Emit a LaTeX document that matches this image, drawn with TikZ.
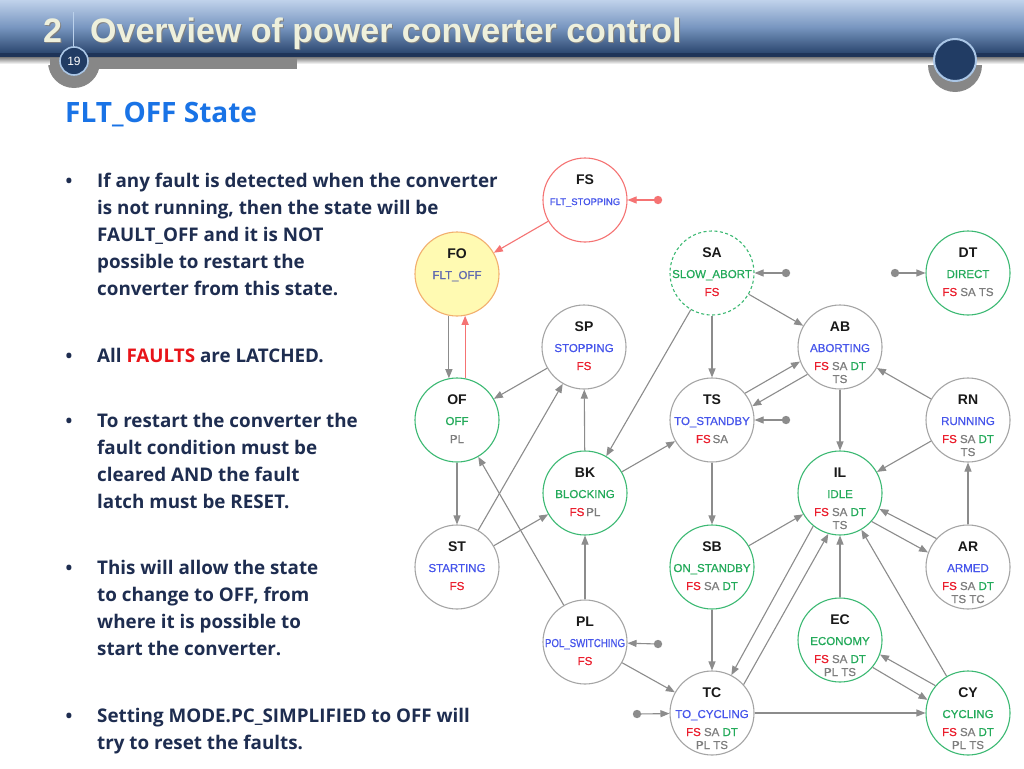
\documentclass[tikz,border=0pt]{standalone}
\usepackage{fontspec}
\usetikzlibrary{arrows.meta,calc}
\newfontfamily\arialf{Liberation Sans}
\newfontfamily\arialm[FakeBold=0.7]{Liberation Sans}
\newfontfamily\osf{Open Sans}
\definecolor{cblue}{RGB}{70,85,235}
\definecolor{cblue2}{RGB}{95,105,175}
\definecolor{cgreen}{RGB}{35,170,90}
\definecolor{cred}{RGB}{235,30,45}
\definecolor{cgray}{RGB}{125,125,125}
\definecolor{bgray}{RGB}{165,165,165}
\definecolor{bgreen}{RGB}{60,185,115}
\definecolor{egray}{RGB}{140,140,140}
\definecolor{ered}{RGB}{245,115,115}
\definecolor{fofill}{RGB}{255,250,178}
\definecolor{fodraw}{RGB}{242,175,110}
\definecolor{bodytxt}{RGB}{30,45,80}
\definecolor{ttlblue}{RGB}{25,115,230}
\definecolor{faultred}{RGB}{232,20,25}
\definecolor{hdtop}{RGB}{192,210,235}
\definecolor{hdmid}{RGB}{120,150,192}
\definecolor{hdbot}{RGB}{40,68,108}
\definecolor{hdstrip}{RGB}{30,52,88}
\definecolor{shgray}{RGB}{135,135,135}
\definecolor{navy}{RGB}{33,60,100}
\definecolor{rimblue}{RGB}{170,198,230}
\definecolor{cream}{RGB}{238,240,220}
\newcommand\cR[1]{\textcolor{cred}{#1}}
\newcommand\cG[1]{\textcolor{cgreen}{#1}}
\newcommand\cY[1]{\textcolor{cgray}{#1}}
\newcommand\cB[1]{\textcolor{cblue}{#1}}
\newcommand\stt[7]{%
  \node[stc,#3] (#1) at (#2) {};
  \node[abbr] (#1-a) at ([yshift=16pt]#1.center) {#4};
  \node[nm] (#1-n) at ([yshift=-5pt]#1.center) {#5};
  \if\relax\detokenize{#6}\relax\else\node[fl] (#1-f) at ([yshift=-23pt]#1.center) {#6};\fi
  \if\relax\detokenize{#7}\relax\else\node[fl] (#1-g) at ([yshift=-36pt]#1.center) {#7};\fi
}
\begin{document}
\begin{tikzpicture}[x=1pt,y=-1pt,
  stc/.style={circle,minimum size=84pt,inner sep=0pt,line width=1.1pt,fill=white},
  sgray/.style={draw=bgray},
  sgreen/.style={draw=bgreen},
  sred/.style={draw=ered},
  sfo/.style={draw=fodraw,fill=fofill},
  sdash/.style={draw=bgreen,dash pattern=on 3pt off 2.5pt},
  abbr/.style={anchor=base,inner sep=0pt,font=\arialf\bfseries\fontsize{14}{14}\selectfont,text=black!90},
  nm/.style={anchor=base,inner sep=0pt,font=\arialm\fontsize{11.5}{12}\selectfont},
  fl/.style={anchor=base,inner sep=0pt,font=\arialm\fontsize{11.5}{12}\selectfont},
  ed/.style={draw=egray,line width=1.1pt,-{Triangle[length=9pt,width=7pt]}},
  edr/.style={draw=ered,line width=1.1pt,-{Triangle[length=9pt,width=7pt]}},
  dotg/.style={fill=egray},
  dotr/.style={fill=ered},
  body/.style={anchor=base west,inner sep=0pt,align=left,text=bodytxt,
     font=\osf\bfseries\fontsize{18.8}{27}\selectfont},
  bul/.style={anchor=base,inner sep=0pt,text=bodytxt,font=\osf\bfseries\fontsize{18}{27}\selectfont}
]
\useasboundingbox (0,0) rectangle (1024,768);
\fill[white] (0,0) rectangle (1024,768);
% header
\fill[shgray] (74,62) circle (26pt);
\fill[shgray] (955,65) circle (27pt);
\shade[top color=hdtop,bottom color=hdbot,middle color=hdmid] (0,0) rectangle (1024,54);
\fill[hdstrip] (0,53) rectangle (1024,58);
\shade[top color=black!45,bottom color=white] (0,58) rectangle (1024,64);
\fill[shgray] (50,58) rectangle (297,69);
\draw[rimblue!80,line width=0.8pt] (73,12) -- (73,47);
\node[anchor=base west,inner sep=0pt,text=black!50,font=\arialf\bfseries\fontsize{34}{34}\selectfont] (tsh2) at (44,44) {2};
\node[anchor=base west,inner sep=0pt,text=cream,font=\arialf\bfseries\fontsize{34}{34}\selectfont] (t2) at (43,43) {2};
\node[anchor=base west,inner sep=0pt,text=black!50,font=\arialf\bfseries\fontsize{34}{34}\selectfont] (tsh) at (91,44) {Overview of power converter control};
\node[anchor=base west,inner sep=0pt,text=cream,font=\arialf\bfseries\fontsize{34}{34}\selectfont] (title) at (90,43) {Overview of power converter control};
\filldraw[fill=navy,draw=rimblue,line width=1.6pt] (74,61) circle (14pt);
\node[text=white,inner sep=0pt,font=\arialf\fontsize{12}{12}\selectfont] (pg) at (74,61) {19};
\filldraw[fill=navy,draw=rimblue,line width=2pt] (955,60) circle (21pt);
% slide title
\node[anchor=base west,inner sep=0pt,text=ttlblue,font=\osf\bfseries\fontsize{28}{28}\selectfont] (sub) at (65,122) {FLT\_OFF State};
% bullets (base anchor = last line)
\node[bul] (b1d) at (69,187) {•};
\node[body] (b1) at (97,295) {If any fault is detected when the converter\\is not running, then the state will be\\FAULT\_OFF and it is NOT\\possible to restart the\\converter from this state.};
\node[bul] (b2d) at (69,362) {•};
\node[body] (b2) at (97,362) {All \textcolor{faultred}{FAULTS} are LATCHED.};
\node[bul] (b3d) at (69,427) {•};
\node[body] (b3) at (97,508) {To restart the converter the\\fault condition must be\\cleared AND the fault\\latch must be RESET.};
\node[bul] (b4d) at (69,574) {•};
\node[body] (b4) at (97,655) {This will allow the state\\to change to OFF, from\\where it is possible to\\start the converter.};
\node[bul] (b5d) at (69,722) {•};
\node[body] (b5) at (97,749) {Setting MODE.PC\_SIMPLIFIED to OFF will\\try to reset the faults.};
% states
\stt{FS}{585,200}{sred}{FS}{\fontsize{9.5}{10}\selectfont\cB{FLT\_STOPPING}}{}{}
\stt{FO}{457,274}{sfo}{FO}{\textcolor{cblue2}{FLT\_OFF}}{}{}
\stt{SA}{712,273}{sdash}{SA}{\cG{SLOW\_ABORT}}{\cR{FS}}{}
\stt{DT}{968,273}{sgreen}{DT}{\cG{DIRECT}}{\cR{FS} \cY{SA TS}}{}
\stt{SP}{584,347}{sgray}{SP}{\cB{STOPPING}}{\cR{FS}}{}
\stt{AB}{840,347}{sgray}{AB}{\cB{ABORTING}}{\cR{FS} \cY{SA} \cG{DT}}{\cY{TS}}
\stt{OF}{457,420}{sgreen}{OF}{\cG{OFF}}{\cY{PL}}{}
\stt{TS}{712,420}{sgray}{TS}{\cB{TO\_STANDBY}}{\cR{FS}\,\cY{SA}}{}
\stt{RN}{968,420}{sgray}{RN}{\cB{RUNNING}}{\cR{FS} \cY{SA} \cG{DT}}{\cY{TS}}
\stt{BK}{585,493}{sgreen}{BK}{\cG{BLOCKING}}{\cR{FS}\,\cY{PL}}{}
\stt{IL}{840,493}{sgreen}{IL}{\cG{IDLE}}{\cR{FS} \cY{SA} \cG{DT}}{\cY{TS}}
\stt{ST}{457,567}{sgray}{ST}{\cB{STARTING}}{\cR{FS}}{}
\stt{SB}{712,567}{sgreen}{SB}{\cG{ON\_STANDBY}}{\cR{FS} \cY{SA} \cG{DT}}{}
\stt{AR}{968,567}{sgray}{AR}{\cB{ARMED}}{\cR{FS} \cY{SA} \cG{DT}}{\cY{TS TC}}
\stt{PL}{585,642}{sgray}{PL}{\scalebox{0.84}[1]{\cB{POL\_SWITCHING}}}{\cR{FS}}{}
\stt{EC}{840,640}{sgreen}{EC}{\cG{ECONOMY}}{\cR{FS} \cY{SA} \cG{DT}}{\cY{PL TS}}
\stt{TC}{712,713}{sgray}{TC}{\cB{TO\_CYCLING}}{\cR{FS} \cY{SA} \cG{DT}}{\cY{PL TS}}
\stt{CY}{968,713}{sgreen}{CY}{\cG{CYCLING}}{\cR{FS} \cY{SA} \cG{DT}}{\cY{PL TS}}
% stub points
\coordinate (FSd) at (658,200);
\coordinate (SAd) at (786,273);
\coordinate (DTd) at (895,273);
\coordinate (TSd) at (786,420);
\coordinate (PLd) at (658,644);
\coordinate (TCd) at (637,714);
\fill[dotr] (FSd) circle (4.2pt);
\foreach \d in {SAd,DTd,TSd,PLd,TCd} \fill[dotg] (\d) circle (4.2pt);
% edges
\draw[edr] (FSd) -- (FS);
\draw[edr] (FS) -- (FO);
\draw[ed] (FO.259) -- (OF.101);
\draw[edr] (OF.79) -- (FO.281);
\draw[ed] (SP) -- (OF);
\draw[ed] (OF) -- (ST);
\draw[ed] (ST) -- (SP);
\draw[ed] (PL) -- (OF);
\draw[ed] (ST) -- (BK);
\draw[ed] (BK) -- (SP);
\draw[ed] (SA) -- (BK);
\draw[ed] (BK) -- (TS);
\draw[ed] (PL) -- (BK);
\draw[ed] (PLd) -- (PL);
\draw[ed] (PL) -- (TC);
\draw[ed] (TCd) -- (TC);
\draw[ed] (SAd) -- (SA);
\draw[ed] (DTd) -- (DT);
\draw[ed] (SA) -- (TS);
\draw[ed] (SA) -- (AB);
\draw[ed] (TS.39) -- (AB.200);
\draw[ed] (AB.220) -- (TS.19);
\draw[ed] (TSd) -- (TS);
\draw[ed] (RN) -- (AB);
\draw[ed] (AB) -- (IL);
\draw[ed] (RN) -- (IL);
\draw[ed] (TS) -- (SB);
\draw[ed] (SB) -- (IL);
\draw[ed] (IL.318) -- (AR.160);
\draw[ed] (AR.138) -- (IL.338);
\draw[ed] (AR) -- (RN);
\draw[ed] (IL.231) -- (TC.63);
\draw[ed] (TC.42) -- (IL.254);
\draw[ed] (SB) -- (TC);
\draw[ed] (EC) -- (IL);
\draw[ed] (CY) -- (IL);
\draw[ed] (EC.320) -- (CY.162);
\draw[ed] (CY.140) -- (EC.340);
\draw[ed] (TC) -- (CY);
\end{tikzpicture}
\end{document}
